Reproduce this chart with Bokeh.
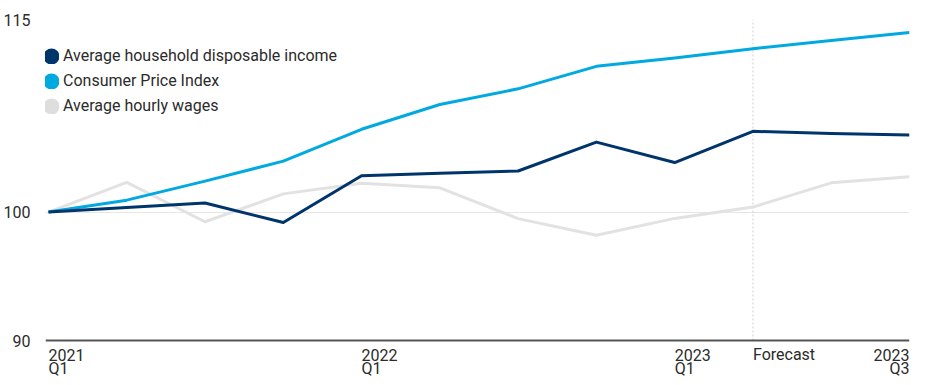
from bokeh.plotting import figure
from bokeh.models import Range1d, FixedTicker, Span, Legend, LegendItem, ColumnDataSource
from bokeh.core.properties import value
from bokeh.embed import file_html
from bokeh.resources import INLINE

# ---- data ----
quarters = list(range(12))
income = [100.0, 100.35, 100.71, 99.19, 102.83, 103.02, 103.20, 105.45, 103.86, 106.29, 106.13, 106.0]
cpi = [100.0, 100.93, 102.41, 103.97, 106.45, 108.38, 109.6, 111.35, 112.0, 112.73, 113.36, 113.98]
wages = [100.0, 102.31, 99.25, 101.42, 102.24, 101.89, 99.49, 98.19, 99.51, 100.39, 102.28, 102.75]

series_names = ["Average household disposable income", "Consumer Price Index", "Average hourly wages"]
series_colors = ["#00356b", "#00a9e0", "#e2e2e2"]
legend_colors = ["#00356b", "#00a9e0", "#dedede"]

y_ticks = [90, 100, 115]
y_min, y_max = 90, 115

x_tick_pos = [0, 4, 8, 9, 11]
x_tick_top = ["2021", "2022", "2023", "Forecast", "2023"]
x_tick_bottom = ["Q1", "Q1", "Q1", "", "Q3"]
forecast_index = 9

# ---- layout ----
FONT = "Roboto"
TEXT = "#2b2b2b"
W, H = 911, 377
TOP, LEFT, RIGHT = 19, 36, 2
AXIS_GAP = 37          # px between baseline (90) and canvas bottom
frame_h = H - TOP
px_per_unit = (frame_h - AXIS_GAP) / (y_max - y_min)
y_start = y_min - AXIS_GAP / px_per_unit
x_start = -3 / ((W - LEFT - RIGHT - 3) / (quarters[-1] - quarters[0]))

p = figure(width=W, height=H, output_backend="svg", toolbar_location=None,
           x_range=Range1d(x_start, quarters[-1]), y_range=Range1d(y_start, y_max),
           min_border_left=LEFT, min_border_right=RIGHT, min_border_top=TOP, min_border_bottom=0)
p.outline_line_color = None
p.xaxis.visible = False

p.yaxis.ticker = FixedTicker(ticks=y_ticks)
p.yaxis.axis_line_color = None
p.yaxis.major_tick_line_color = None
p.yaxis.minor_tick_line_color = None
p.yaxis.major_label_standoff = 9
p.yaxis.major_label_text_font = FONT
p.yaxis.major_label_text_font_size = "16px"
p.yaxis.major_label_text_color = TEXT

p.xgrid.grid_line_color = None
p.ygrid.ticker = FixedTicker(ticks=[t for t in y_ticks if t != y_min])
p.ygrid.grid_line_color = "#e6e6e6"
p.ygrid.grid_line_width = 1

# forecast divider (from baseline to top)
p.segment(x0=[forecast_index], y0=[y_min], x1=[forecast_index], y1=[y_max],
          line_color="#cfcfcf", line_width=1, line_dash="2 2")

# lines (wages under, then CPI, then income)
for data, color in [(wages, series_colors[2]), (cpi, series_colors[1]), (income, series_colors[0])]:
    p.line(quarters, data, line_color=color, line_width=3, line_join="round")

# baseline axis at 90
p.add_layout(Span(location=y_min, dimension="width", line_color="#555555", line_width=2))

# legend with round dots (hidden one-point renderers carry the legend glyph)
items = []
for name, color, data in zip(series_names, legend_colors, [income, cpi, wages]):
    r = p.scatter(x=[quarters[0]], y=[data[0]], marker="circle", fill_color=color,
                  line_color=color, line_width=9.6, visible=False)
    items.append(LegendItem(label=name, renderers=[r]))
legend = Legend(items=items, location=(-2, 262), orientation="vertical",
                border_line_color=None, background_fill_alpha=0,
                padding=0, margin=0, spacing=6,
                glyph_width=16, glyph_height=16, label_height=16, label_standoff=4,
                label_text_font=FONT, label_text_font_size="16px", label_text_color=TEXT)
p.add_layout(legend)

# x tick labels (two lines each), drawn inside the extended frame below the baseline
n = len(x_tick_pos)
for idx, align in [(list(range(n - 1)), "left"), ([n - 1], "right")]:
    src = ColumnDataSource(dict(x=[x_tick_pos[i] for i in idx], y=[y_min] * len(idx),
                                top=[x_tick_top[i] for i in idx], bot=[x_tick_bottom[i] for i in idx]))
    for col, off in [("top", 14), ("bot", 27.5)]:
        p.text(x="x", y="y", text=col, source=src, y_offset=off, text_align=align,
               text_baseline="alphabetic", text_font=value(FONT), text_font_size="16px",
               text_color=TEXT)

open("out.html", "w").write(file_html(p, INLINE))
